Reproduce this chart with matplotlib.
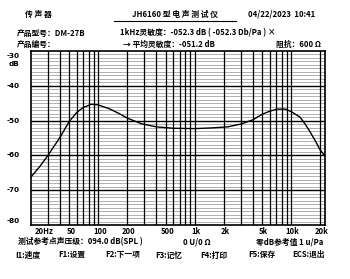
import matplotlib
matplotlib.use('Agg')
import matplotlib.pyplot as plt
from matplotlib.lines import Line2D

plt.rcParams['font.family'] = ['Noto Sans CJK SC', 'DejaVu Sans']

# Frequency response
freq = [20, 25, 30, 40, 50, 60, 70, 85, 100, 130, 165, 200, 280, 400, 600,
        1000, 1500, 2200, 3000, 4000, 5000, 6000, 7200, 8700, 10000, 12400,
        14000, 15800, 18000, 20000, 22500]
level = [-66.2, -63.0, -60.0, -54.8, -50.2, -47.6, -46.2, -45.3, -45.5, -46.6,
         -48.0, -49.3, -50.9, -51.8, -52.2, -52.3, -52.1, -51.8, -51.0, -49.8,
         -48.2, -47.3, -46.7, -46.7, -47.4, -49.0, -51.0, -53.3, -56.0, -58.4, -60.2]

grid_freqs = ([30, 40, 50, 60, 70, 80, 90] + [100 * i for i in range(1, 10)] +
              [1000 * i for i in range(1, 10)] + [10000, 20000])
tick_freqs = [20, 50, 100, 200, 500, 1000, 2000, 5000, 10000, 20000]
tick_labels = ['20Hz', '50', '100', '200', '500', '1k', '2k', '5k', '10k', '20k']
y_ticks = [-30, -40, -50, -60, -70, -80]

W, H = 350, 279
fig = plt.figure(figsize=(W / 100, H / 100), dpi=100)
fig.patch.set_facecolor('white')

def px(x, y):
    return x / W, 1 - y / H

ax = fig.add_axes([31 / W, 1 - 225 / H, (325 - 31) / W, (225 - 51) / H])
ax.set_xscale('log')
ax.set_xlim(20, 22500)
ax.set_ylim(-80, -30)

# grid
for db in range(-79, -30):
    if db % 10 == 0:
        continue
    ax.axhline(db, color='#8f8f8f', lw=0.5, zorder=1)
for db in range(-70, -30, 10):
    ax.axhline(db, color='black', lw=1.0, zorder=2)
for f in grid_freqs:
    ax.axvline(f, color='black', lw=0.9, zorder=2)

ax.plot(freq, level, color='black', lw=1.0, zorder=3)

for s in ax.spines.values():
    s.set_linewidth(1.2)
ax.set_xticks([])
ax.set_yticks([])
ax.minorticks_off()

# x tick labels
tf = dict(fontsize=5.5, fontweight='bold', color='black')
for f, lab in zip(tick_freqs, tick_labels):
    if lab == '20Hz':
        ax.text(f * 1.09, -80.6, lab, ha='left', va='top', **tf)
    else:
        ax.text(f * 1.04, -80.6, lab, ha='center', va='top', **tf)

# y tick labels (DejaVu keeps the boxes tight)
yf = dict(fontsize=5.2, fontweight='bold', color='black', family='DejaVu Sans')
for v in y_ticks:
    if v == -30:
        ax.text(15.3, -31.9, str(v), ha='right', va='baseline', **yf)
    elif v == -80:
        ax.text(15.3, -79.8, str(v), ha='right', va='bottom', **yf)
    else:
        ax.text(15.3, v, str(v), ha='right', va='center', **yf)
ax.text(15.3, -34.2, 'dB', ha='right', va='baseline', **yf)

# header and footer text
hf = dict(fontsize=5.6, fontweight='bold', color='black', va='center')
fig.text(*px(25, 14), '传 声 器', ha='left', **hf)
fig.text(*px(175, 14), 'JH6160 型 电 声 测 试 仪', ha='center', **hf)
fig.add_artist(Line2D([114 / W, 236 / W], [1 - 21 / H, 1 - 21 / H], color='black', lw=0.8))
fig.text(*px(248, 14), '04/22/2023  10:41', ha='left', **hf)
fig.text(*px(17, 33), '产品型号：DM-27B', ha='left', **hf)
fig.text(*px(120, 33), '1kHz灵敏度：-052.3 dB ( -052.3 Db/Pa ) ×', ha='left', **hf)
fig.text(*px(17, 44), '产品编号：', ha='left', **hf)
fig.text(*px(123, 44), '→ 平均灵敏度：-051.2 dB', ha='left', **hf)
fig.text(*px(321, 44), '阻抗：600 Ω', ha='right', **hf)
fig.text(*px(18, 242), '测试参考点声压级：094.0 dB(SPL )', ha='left', **hf)
fig.text(*px(197, 242), '0 U/0 Ω', ha='center', **hf)
fig.text(*px(323, 242), '零dB参考值 1 u/Pa', ha='right', **hf)
keys = [(15, 'I1:速度'), (58, 'F1:设置'), (105, 'F2:下一项'), (155, 'F3:记忆'),
        (200, 'F4:打印'), (248, 'F5:保存'), (292, 'ECS:退出')]
for x, k in keys:
    fig.text(*px(x, 255), k, ha='left', **hf)

fig.savefig('out.png', dpi=100, facecolor='white')
